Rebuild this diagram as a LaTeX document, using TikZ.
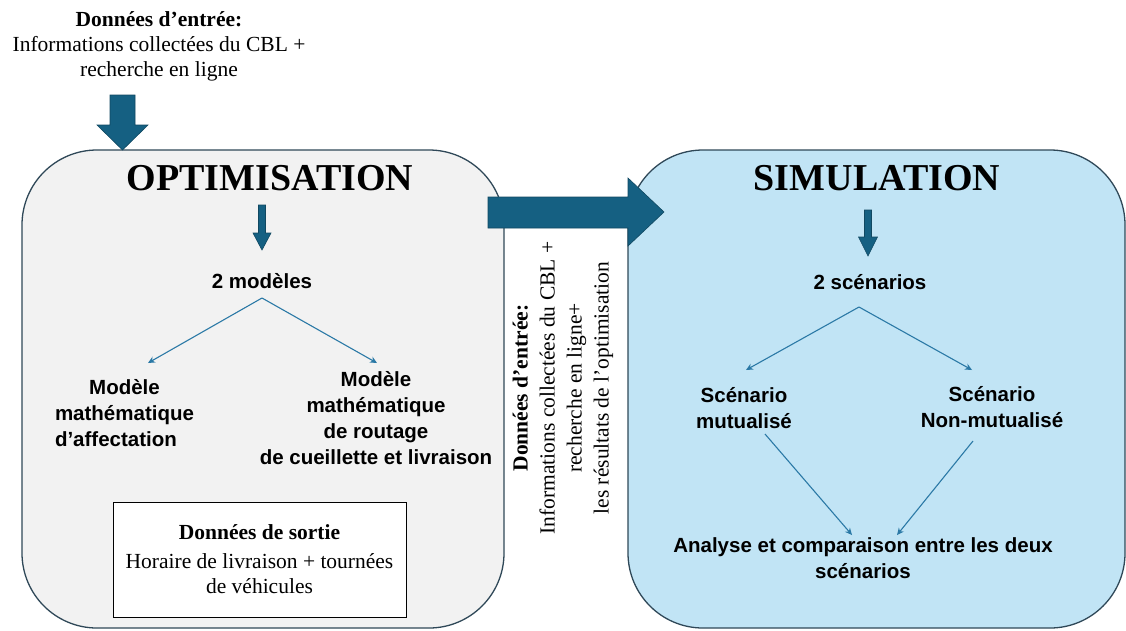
\documentclass[tikz,border=0pt]{standalone}
\usepackage{fontspec}
\setmainfont{Liberation Serif}
\newfontfamily\uisans{Liberation Sans}
\usetikzlibrary{arrows.meta}
\definecolor{blockblue}{HTML}{156082}
\definecolor{linkblue}{HTML}{2B79A6}
\definecolor{greyfill}{HTML}{F2F2F2}
\definecolor{skyfill}{HTML}{C1E4F5}
\definecolor{panelframe}{HTML}{2F4858}
\begin{document}
\begin{tikzpicture}[x=1pt,y=-1pt,
  panel/.style={draw=panelframe,line width=1.3pt,rounded corners=75pt},
  heading/.style={font=\fontsize{38}{40}\selectfont\bfseries,inner sep=0pt},
  serif/.style={font=\fontsize{21.5}{25}\selectfont,align=center,inner sep=0pt},
  label/.style={font=\uisans\bfseries\fontsize{20.5}{26}\selectfont,align=center,inner sep=0pt},
  link/.style={draw=linkblue,line width=1.1pt,-{Stealth[length=7pt,width=6.5pt]}},
  block/.style={fill=blockblue,draw=blockblue!75!black,line width=0.6pt},
]
\useasboundingbox (0,0) rectangle (1126,630);

% the two stage panels
\draw[panel,fill=greyfill] (22,150) rectangle (504,628);
\draw[panel,fill=skyfill] (628,150) rectangle (1125,628);

% input data of the optimisation stage
\node[serif] (inTop) at (159,46) {\textbf{Données d’entrée:}\\Informations collectées du CBL +\\recherche en ligne};
\draw[block] (110,95) -- (135,95) -- (135,125) -- (148,125) -- (122.5,150)
  -- (97,125) -- (110,125) -- cycle;

% transfer arrow between the stages
\draw[block] (488,197) -- (628,197) -- (628,178) -- (664,212) -- (628,246)
  -- (628,228) -- (488,228) -- cycle;
\node[serif,rotate=90,font=\fontsize{21.5}{27}\selectfont] (inMid) at (563,388)
  {\textbf{Données d’entrée:}\\Informations collectées du CBL +\\recherche en ligne+\\les résultats de l’optimisation};

% optimisation stage
\node[heading,anchor=base] (opt) at (270,190) {OPTIMISATION};
\draw[block] (258.5,205) -- (265.5,205) -- (265.5,233) -- (271,233) -- (262,250)
  -- (253,233) -- (258.5,233) -- cycle;
\node[label,anchor=base] (models) at (262,288) {2 modèles};
\coordinate (mSplit) at (262,298);
\coordinate (mLeft) at (148,363);
\coordinate (mRight) at (377,363);
\draw[link] (mSplit) -- (mLeft);
\draw[link] (mSplit) -- (mRight);
\node[label] (affect) at (124.5,415) {Modèle\\mathématique\\\rlap{d’affectation}\phantom{mathématique}};
\node[label] (routing) at (376,418.5) {Modèle\\mathématique\\de routage\\de cueillette et livraison};
\node[serif,draw=black,line width=0.9pt,fill=white,minimum width=293pt,minimum height=115pt]
  (output) at (259.5,559.5) {\textbf{Données de sortie}\\[4pt]Horaire de livraison + tournées\\de véhicules};

% simulation stage
\node[heading,anchor=base] (sim) at (877,190) {SIMULATION};
\draw[block] (864.5,210) -- (871.5,210) -- (871.5,237) -- (877.5,237) -- (868,256)
  -- (858.5,237) -- (864.5,237) -- cycle;
\node[label,anchor=base] (scen) at (870,289) {2 scénarios};
\coordinate (sSplit) at (859,307);
\coordinate (sLeft) at (746,370);
\coordinate (sRight) at (972,370);
\draw[link] (sSplit) -- (sLeft);
\draw[link] (sSplit) -- (sRight);
\node[label] (mutual) at (744,408) {Scénario\\mutualisé};
\node[label] (nonmutual) at (992,407) {Scénario\\Non-mutualisé};
\node[label] (analysis) at (863,558.5) {Analyse et comparaison entre les deux\\scénarios};
\coordinate (aFromL) at (765,434);
\coordinate (aToL) at (852,535);
\coordinate (aFromR) at (973,441);
\coordinate (aToR) at (897,535);
\draw[link] (aFromL) -- (aToL);
\draw[link] (aFromR) -- (aToR);
\end{tikzpicture}
\end{document}
